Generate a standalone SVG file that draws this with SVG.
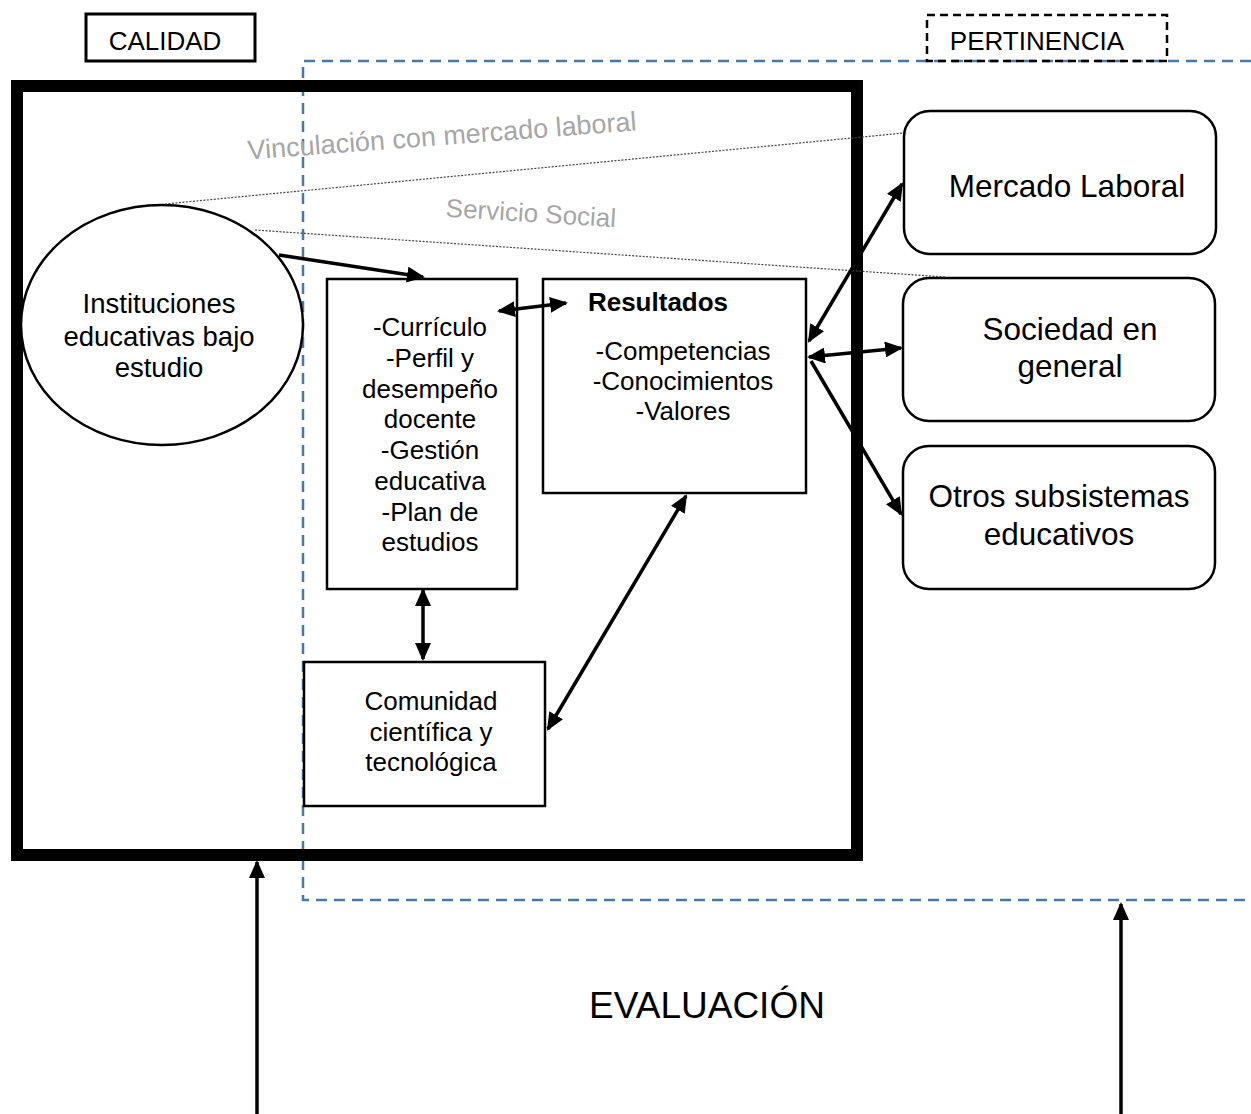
<svg xmlns="http://www.w3.org/2000/svg" width="1251" height="1114" viewBox="0 0 1251 1114">
<style>
text{font-family:"Liberation Sans",Arial,sans-serif;fill:#000}
.t26{font-size:26px;text-anchor:middle}
.t31{font-size:31.5px;text-anchor:middle}
.box{fill:none;stroke:#000;stroke-width:2.5}
.rbox{fill:#fff;stroke:#000;stroke-width:2.5}
.conn{fill:none;stroke:#000;stroke-width:3.5}
.dot{fill:none;stroke:#444;stroke-width:1.2;stroke-dasharray:2 1.5}
.gray{font-size:26px;fill:#a6a6a6;text-anchor:middle}
</style>
<defs>
<marker id="ah" markerUnits="userSpaceOnUse" markerWidth="18" markerHeight="16" viewBox="0 0 18 16" refX="16" refY="8" orient="auto-start-reverse">
<path d="M0,0 L18,8 L0,16 z" fill="#000"/>
</marker>
</defs>

<g id="calidad">
<rect x="86" y="14" width="169" height="47" class="box" style="stroke-width:3"/>
<text x="165" y="50" class="t26">CALIDAD</text>
</g>

<g id="pertinencia-zone">
<path d="M1251 61 H303 V900 H1251" fill="none" stroke="#4a78a8" stroke-width="2.5" stroke-dasharray="11 7"/>
</g>

<g id="pertinencia">
<rect x="927" y="15" width="240" height="46" fill="none" stroke="#000" stroke-width="2.5" stroke-dasharray="8 5"/>
<text x="1037" y="50" class="t26">PERTINENCIA</text>
</g>

<g id="calidad-frame">
<rect x="17" y="86" width="840" height="769" fill="none" stroke="#000" stroke-width="12"/>
</g>

<g id="instituciones">
<ellipse cx="162" cy="325" rx="141" ry="120" fill="#fff" stroke="#000" stroke-width="2.5"/>
<text class="t26" style="font-size:27.5px"><tspan x="159" y="313">Instituciones</tspan><tspan x="159" y="346">educativas bajo</tspan><tspan x="159" y="377">estudio</tspan></text>
</g>

<g id="curriculo">
<rect x="327" y="279" width="190" height="310" class="box"/>
<text class="t26"><tspan x="430" y="336">-Currículo</tspan><tspan x="430" y="367">-Perfil y</tspan><tspan x="430" y="398">desempeño</tspan><tspan x="430" y="428">docente</tspan><tspan x="430" y="459">-Gestión</tspan><tspan x="430" y="490">educativa</tspan><tspan x="430" y="521">-Plan de</tspan><tspan x="430" y="551">estudios</tspan></text>
</g>

<g id="resultados">
<rect x="543" y="279" width="263" height="214" class="box"/>
<text x="658" y="311" class="t26" style="font-weight:bold">Resultados</text>
<text class="t26"><tspan x="683" y="360">-Competencias</tspan><tspan x="683" y="390">-Conocimientos</tspan><tspan x="683" y="420">-Valores</tspan></text>
</g>

<g id="comunidad">
<rect x="304" y="662" width="241" height="144" class="box"/>
<text class="t26"><tspan x="431" y="710">Comunidad</tspan><tspan x="431" y="741">científica y</tspan><tspan x="431" y="771">tecnológica</tspan></text>
</g>

<g id="mercado">
<rect x="904" y="111" width="312" height="143" rx="26" class="rbox"/>
<text x="1067" y="197" class="t31">Mercado Laboral</text>
</g>

<g id="sociedad">
<rect x="903" y="278" width="312" height="143" rx="26" class="rbox"/>
<text class="t31"><tspan x="1070" y="340">Sociedad en</tspan><tspan x="1070" y="377">general</tspan></text>
</g>

<g id="otros">
<rect x="903" y="446" width="312" height="143" rx="26" class="rbox"/>
<text class="t31"><tspan x="1059" y="507">Otros subsistemas</tspan><tspan x="1059" y="545">educativos</tspan></text>
</g>

<g id="labels">
<text x="442" y="145" class="gray" style="font-size:27px" transform="rotate(-4.3 442 136)">Vinculación con mercado laboral</text>
<text x="531" y="222" class="gray" transform="rotate(3.5 531 213)">Servicio Social</text>
<text x="707" y="1018" style="font-size:37px;text-anchor:middle">EVALUACIÓN</text>
</g>

<g id="connectors">
<line x1="165" y1="204" x2="904" y2="133" class="dot"/>
<line x1="255" y1="230" x2="945" y2="277" class="dot"/>
<line x1="279" y1="255" x2="423" y2="277" class="conn" marker-end="url(#ah)"/>
<line x1="499" y1="311" x2="566" y2="303" class="conn" marker-start="url(#ah)" marker-end="url(#ah)"/>
<line x1="423" y1="590" x2="423" y2="659" class="conn" marker-start="url(#ah)" marker-end="url(#ah)"/>
<line x1="548" y1="729" x2="686" y2="496" class="conn" marker-start="url(#ah)" marker-end="url(#ah)"/>
<line x1="809" y1="341" x2="902" y2="184" class="conn" marker-start="url(#ah)" marker-end="url(#ah)"/>
<line x1="809" y1="357" x2="901" y2="348" class="conn" marker-start="url(#ah)" marker-end="url(#ah)"/>
<line x1="811" y1="361" x2="901" y2="514" class="conn" marker-end="url(#ah)"/>
<line x1="257" y1="1114" x2="257" y2="862" class="conn" marker-end="url(#ah)"/>
<line x1="1121" y1="1114" x2="1121" y2="904" class="conn" marker-end="url(#ah)"/>
</g>
</svg>
